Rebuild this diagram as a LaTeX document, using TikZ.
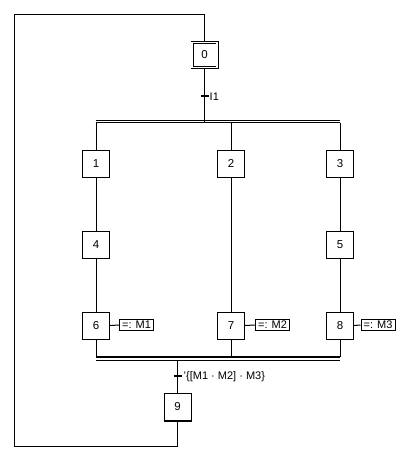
\documentclass[tikz,border=0pt]{standalone}
\usepackage{fontspec}
\setmainfont{Liberation Sans}
\usetikzlibrary{calc}
\tikzset{
  stepbox/.style={draw, line width=1pt, minimum size=27pt, inner sep=0pt, font=\fontsize{11.5}{12}\selectfont},
  initbox/.style={stepbox, minimum size=25pt, double, double distance=1.2pt, line width=0.9pt},
  actbox/.style={draw, line width=1pt, minimum width=34pt, minimum height=11.5pt, inner sep=0pt, font=\fontsize{11}{12}\selectfont},
  tick/.style={line width=2pt},
  wire/.style={line width=1pt}
}

\begin{document}
\begin{tikzpicture}[x=1pt, y=-1pt]
		%%%%% START %%%%%
		\useasboundingbox (0, 0) rectangle (401, 456);
		
		\node[initbox] (s0) at (204.5, 55) {0};
		
		\node[stepbox] (s1) at (96, 163.5) {1};
		\node[stepbox] (s2) at (231, 163.5) {2};
		\node[stepbox] (s3) at (340, 163.5) {3};
		\node[stepbox] (s4) at (96, 245) {4};
		\node[stepbox] (s5) at (340, 245) {5};
		\node[stepbox] (s6) at (96, 325.5) {6};
		\node[stepbox] (s7) at (231, 325.5) {7};
		\node[stepbox] (s8) at (340, 325.5) {8};
		\node[stepbox] (s9) at (177.5, 407) {9};
		
		\node[actbox] (a6) at (136.5, 325) {=: M1};
		\node[actbox] (a7) at (272.5, 325) {=: M2};
		\node[actbox] (a8) at (378, 325) {=: M3};
		
		\draw[wire] (s6.east) -- (a6.west);
		\draw[wire] (s7.east) -- (a7.west);
		\draw[wire] (s8.east) -- (a8.west);
		
		% divergence
		\coordinate (t1) at (204.5, 96);
		\draw[wire] (s0.south) -- (204.5, 122.5);
		\draw[tick] ($(t1)+(-4, 0)$) -- ($(t1)+(4, 0)$);
		\node[anchor=west, inner sep=0pt, font=\fontsize{11}{12}\selectfont] (l1) at (209.5, 96.5) {I1};
		\draw[wire] (95.5, 120.5) -- (340, 120.5);
		\draw[wire] (95.5, 122.5) -- (340, 122.5);
		
		\draw[wire] (96, 122.5) -- (s1.north);
		\draw[wire] (231, 122.5) -- (s2.north);
		\draw[wire] (340, 122.5) -- (s3.north);
		
		\draw[wire] (s1) -- (s4);
		\draw[wire] (s4) -- (s6);
		\draw[wire] (s3) -- (s5);
		\draw[wire] (s5) -- (s8);
		\draw[wire] (s2) -- (s7);
		
		% convergence
		\draw[wire] (s6.south) -- (96, 356.5);
		\draw[wire] (s7.south) -- (231, 356.5);
		\draw[wire] (s8.south) -- (340, 356.5);
		\draw[line width=2pt] (95.5, 356.5) -- (340, 356.5);
		\draw[wire] (95.5, 360.5) -- (340, 360.5);
		
		\coordinate (t2) at (177.5, 376);
		\draw[wire] (177.5, 360.5) -- (s9.north);
		\draw[tick] ($(t2)+(-4, 0)$) -- ($(t2)+(4, 0)$);
		\node[anchor=west, inner sep=0pt, font=\fontsize{11}{12}\selectfont] (l2) at (183.5, 377) {'\{[M1 · M2] · M3\}};
		
		\draw[line width=2pt] (s9.south west) -- (s9.south east);
		
		% loop back
		\draw[wire] (s9.south) -- (177.5, 446) -- (14.5, 446) -- (14.5, 14.5) -- (204.5, 14.5) -- (s0.north);
		
		%%%%% END %%%%%
	\end{tikzpicture}
\end{document}
